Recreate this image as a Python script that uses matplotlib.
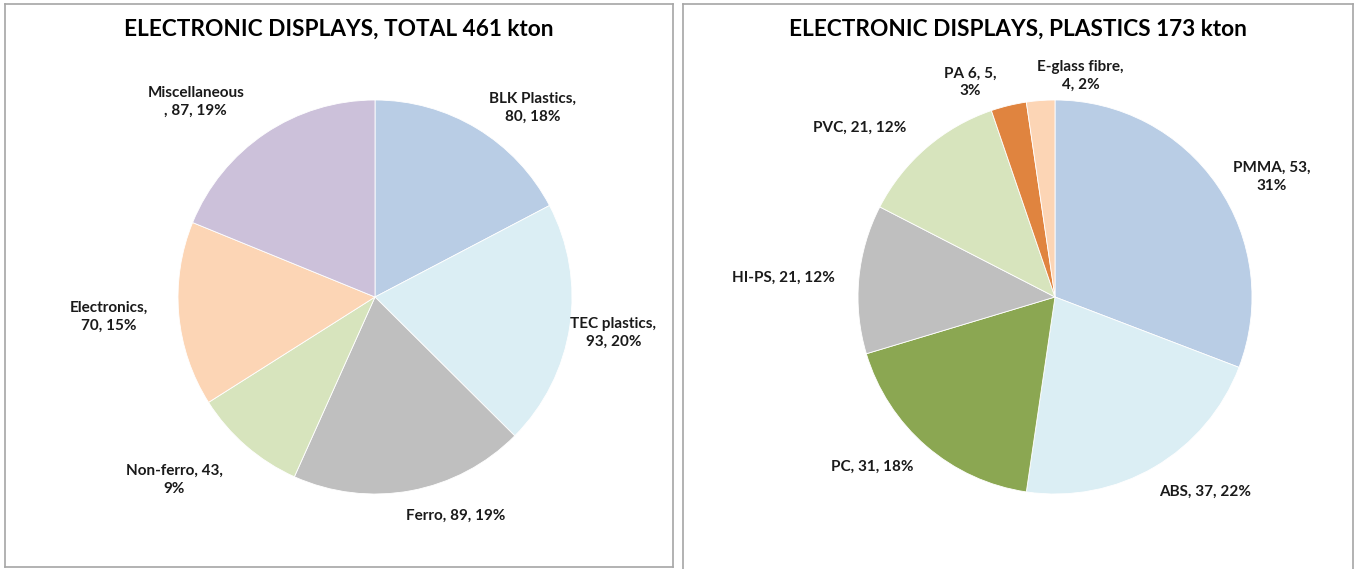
import matplotlib.pyplot as plt

plt.rcParams['font.family'] = ['Lato', 'DejaVu Sans']

total_labels = ['BLK Plastics', 'TEC plastics', 'Ferro', 'Non-ferro', 'Electronics', 'Miscellaneous']
total_values = [80, 93, 89, 43, 70, 87]
total_pct = [18, 20, 19, 9, 15, 19]

plastic_labels = ['PMMA', 'ABS', 'PC', 'HI-PS', 'PVC', 'PA 6', 'E-glass fibre']
plastic_values = [53, 37, 31, 21, 21, 5, 4]
plastic_pct = [31, 22, 18, 12, 12, 3, 2]

total_colors = ['#B9CDE5', '#DBEEF4', '#BFBFBF', '#D7E4BD', '#FCD5B5', '#CCC1DA']
plastic_colors = ['#B9CDE5', '#DBEEF4', '#8BA752', '#BFBFBF', '#D7E4BD', '#E0843F', '#FCD5B5']

# label text layout (line breaks) and positions in pie-radius units
total_fmt = ['{n},\n{v}, {p}%', '{n},\n{v}, {p}%', '{n}, {v}, {p}%', '{n}, {v},\n{p}%',
             '{n},\n{v}, {p}%', '{n}\n, {v}, {p}%']
total_pos = [(0.80, 0.96), (1.21, -0.18), (0.41, -1.11), (-1.02, -0.93), (-1.35, -0.10), (-0.91, 0.99)]
plastic_fmt = ['{n}, {v},\n{p}%', '{n}, {v}, {p}%', '{n}, {v}, {p}%', '{n}, {v}, {p}%',
               '{n}, {v}, {p}%', '{n}, {v},\n{p}%', '{n},\n{v}, {p}%']
plastic_pos = [(1.10, 0.61), (0.76, -0.99), (-0.93, -0.86), (-1.38, 0.10), (-0.99, 0.86),
               (-0.43, 1.09), (0.13, 1.12)]

W, H = 1360, 569
fig = plt.figure(figsize=(W / 100, H / 100), dpi=100)

R = 197.0
top, cy = 4, 297
# panel box in pixels: left, right, bottom, pie centre x
panels = [
    (5, 673, 567, 375, 'ELECTRONIC DISPLAYS, TOTAL 461 kton', total_labels, total_values, total_pct,
     total_colors, total_fmt, total_pos),
    (683, 1353, 575, 1055, 'ELECTRONIC DISPLAYS, PLASTICS 173 kton', plastic_labels, plastic_values,
     plastic_pct, plastic_colors, plastic_fmt, plastic_pos),
]

for x0, x1, bottom, cx, title, labels, values, pct, colors, fmts, pos in panels:
    ax = fig.add_axes([x0 / W, (H - bottom) / H, (x1 - x0) / W, (bottom - top) / H])
    ax.pie(values, colors=colors, startangle=90, counterclock=False, radius=1,
           wedgeprops=dict(edgecolor='white', linewidth=0.6))
    ax.set_aspect('auto')
    ax.set_xlim((x0 - cx) / R, (x1 - cx) / R)
    ax.set_ylim(-(bottom - cy) / R, (cy - top) / R)
    for lab, v, p, f, (lx, ly) in zip(labels, values, pct, fmts, pos):
        ax.text(lx, ly, f.format(n=lab, v=v, p=p), ha='center', va='center',
                fontsize=11, fontweight='bold', color='#1a1a1a', linespacing=1.35)
    ax.text(((x0 + x1) / 2 - cx) / R, (cy - 29) / R, title, ha='center', va='center',
            fontsize=16.3, fontweight='bold', color='black')
    ax.set_frame_on(True)
    ax.set_xticks([])
    ax.set_yticks([])
    for s in ax.spines.values():
        s.set_visible(True)
        s.set_color('#A6A6A6')
        s.set_linewidth(1.2)

fig.savefig('out.png', dpi=100, facecolor='white')
